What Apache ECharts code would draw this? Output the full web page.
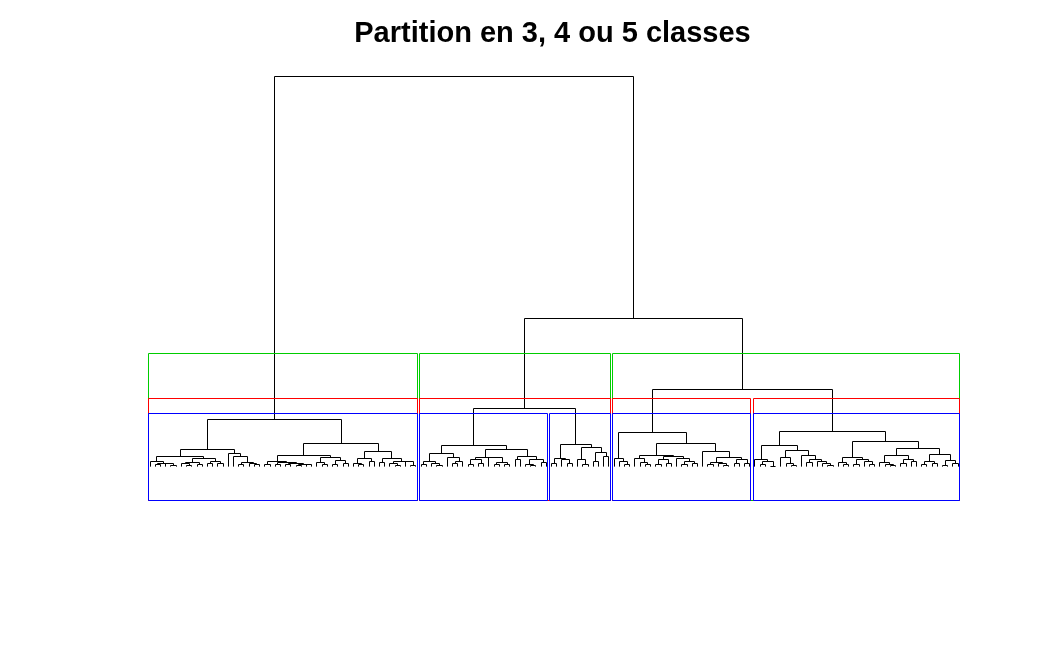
<!DOCTYPE html>
<html><head><meta charset="utf-8">
<script src="https://cdn.jsdelivr.net/npm/echarts@6/dist/echarts.min.js"></script>
<style>html,body{margin:0;padding:0;background:#fff}#c{width:1050px;height:648px}</style>
</head><body><div id="c"></div>
<script>
// ---- DATA ----
// Tree notation: a leaf is 0, a merge is [height, left, right]
const titleText = "Partition en 3, 4 ou 5 classes";
const cluster1 = [11.95,
  [4.45,
    [2.66,
      [1.38, 0, [0.9, [0.5, 0, 0], [0.7, 0, [0.4, 0, 0]]]],
      [2.15, [1.13, [0.8, 0, [0.4, 0, 0]], [0.5, 0, 0]], [1.38, [0.7, 0, 0], [0.9, 0, 0]]]],
    [3.43, 0, [2.66, 0, [1.13, [0.5, 0, 0], [0.9, 0, [0.56, 0, 0]]]]]],
  [6.0,
    [2.92,
      [1.38, [0.56, 0, 0], [1.0, [0.6, 0, 0], [0.85, [0.5, 0, 0], [0.65, [0.4, 0, 0], [0.5, 0, 0]]]]],
      [2.4, [1.13, 0, [0.5, 0, 0]], [1.5, [0.5, 0, 0], [0.8, 0, 0]]]],
    [4.0,
      [2.15, [0.9, 0, [0.5, 0, 0]], [1.2, 0, 0]],
      [2.0, [1.0, 0, 0], [1.4, [0.8, 0, [0.4, 0, 0]], [1.2, 0, [0.4, 0, 0]]]]]]];
const cluster2 = [5.48,
  [3.43,
    [1.38, [0.6, 0, 0], [0.7, 0, [0.4, 0, 0]]],
    [2.4, 0, [1.38, [0.8, 0, 0], 0]]],
  [4.45,
    [2.4,
      [1.7, [0.5, 0, 0], [0.8, 0, 0]],
      [2.35, 0, [1.13, [0.5, 0, 0], [0.6, 0, 0]]]],
    [2.66, [1.7, 0, 0], [1.7, [0.6, 0, [0.3, 0, 0]], [1.0, 0, 0]]]]];
const cluster3 = [5.73,
  [2.15, [0.8, 0, 0], [1.7, 0, [0.8, 0, 0]]],
  [4.97, [1.9, 0, [0.5, 0, 0]], [3.69, [1.38, 0, 0], [2.66, 0, 0]]]];
const cluster4 = [8.8,
  [2.15, 0, [1.38, 0, [0.5, 0, 0]]],
  [5.98,
    [2.92,
      [2.15, 0, [1.13, 0, [0.5, 0, 0]]],
      [2.6, [1.7, [0.6, 0, 0], [0.9, 0, 0]], [2.0, 0, [1.38, [0.6, 0, 0], [0.9, 0, 0]]]]],
    [3.94, 0,
      [2.4, [1.13, [0.5, 0, 0], [0.7, 0, [0.4, 0, 0]]], [1.9, [0.7, 0, 0], [0.9, 0, 0]]]]]];
const cluster5 = [9.06,
  [5.48,
    [1.9, 0, [1.38, [0.5, 0, 0], [0.15, 0, 0]]],
    [4.2,
      [2.4, 0, [0.85, 0, [0.3, 0, 0]]],
      [2.92, 0, [1.9, [1.13, 0, 0], [1.38, 0, [0.8, 0, [0.4, 0, 0]]]]]]],
  [6.5,
    [2.4, [1.13, 0, [0.5, 0, 0]], [1.9, [0.6, 0, 0], [1.38, 0, [0.6, 0, 0]]]],
    [4.7,
      [2.92, [1.13, 0, [0.5, 0, [0.3, 0, 0]]], [1.9, [0.7, 0, 0], [1.2, 0, 0]]],
      [3.17, [1.38, [0.5, 0, 0], [0.8, 0, 0]], [1.64, [0.4, 0, 0], [0.9, 0, 0]]]]]];
const upperHeights = [100, 38.0, 15.0, 19.8]; // root, right branch, clusters 2+3, clusters 4+5
const classCounts = [3, 4, 5];
const rectColors = ['#00CD00', '#FF0000', '#0000FF'];
const yBottom = -8.8;

// ---- BUILD ----
const tree = [upperHeights[0], cluster1,
  [upperHeights[1], [upperHeights[2], cluster2, cluster3], [upperHeights[3], cluster4, cluster5]]];

let leafCounter = 0;
const segs = [];
const mergeHeights = [];
function layout(node) {
  if (node === 0) { leafCounter++; return { x: leafCounter, h: 0 }; }
  const L = layout(node[1]), R = layout(node[2]);
  segs.push([L.x, R.x, node[0], L.h, R.h]);
  mergeHeights.push(node[0]);
  return { x: (L.x + R.x) / 2, h: node[0] };
}
layout(tree);
const N = leafCounter;
const sortedH = mergeHeights.slice().sort((a, b) => b - a);

function countLeaves(node) { return node === 0 ? 1 : countLeaves(node[1]) + countLeaves(node[2]); }
function ranges(node, cut, start, out) {
  const c = countLeaves(node);
  if (node === 0 || node[0] <= cut) { out.push([start, start + c - 1]); return c; }
  const a = ranges(node[1], cut, start, out);
  ranges(node[2], cut, start + a, out);
  return c;
}

const rectData = [];
classCounts.forEach((k, i) => {
  const cut = (sortedH[k - 2] + sortedH[k - 1]) / 2;
  const out = [];
  ranges(tree, cut, 1, out);
  out.forEach(r => rectData.push([r[0] - 1 + 0.66, r[1] + 0.33, cut, i]));
});

const snap = v => Math.floor(v) + 0.5;
const chart = echarts.init(document.getElementById('c'), null, { renderer: 'canvas' });
const ext = 0.04 * (N - 1);
chart.setOption({
  animation: false,
  backgroundColor: '#ffffff',
  grid: { left: 117.8, right: 59.5, top: 76, bottom: 147 },
  xAxis: { type: 'value', min: 1 - ext, max: N + ext, show: false },
  yAxis: { type: 'value', min: yBottom, max: upperHeights[0], show: false },
  series: [
    {
      type: 'custom', coordinateSystem: 'cartesian2d', data: segs, encode: { x: [0, 1], y: [2, 3, 4] }, silent: true,
      renderItem: function (params, api) {
        const p1 = api.coord([api.value(0), api.value(3)]);
        const p2 = api.coord([api.value(0), api.value(2)]);
        const p3 = api.coord([api.value(1), api.value(2)]);
        const p4 = api.coord([api.value(1), api.value(4)]);
        return {
          type: 'polyline',
          shape: { points: [[snap(p1[0]), p1[1]], [snap(p2[0]), snap(p2[1])], [snap(p3[0]), snap(p3[1])], [snap(p4[0]), p4[1]]] },
          style: { stroke: '#000', lineWidth: 1, fill: null }
        };
      }
    }
  ]
});

// rectangles of the 3-, 4- and 5-class partitions, placed through the chart's own scales
const gfx = [{
  type: 'text', x: 552.5, y: 34, z: 10,
  style: { text: titleText, font: 'bold 29px "Liberation Sans", Arial, sans-serif', fill: '#000', align: 'center', verticalAlign: 'middle' }
}];
rectData.forEach(r => {
  const a = chart.convertToPixel({ gridIndex: 0 }, [r[0], r[2]]);
  const b = chart.convertToPixel({ gridIndex: 0 }, [r[1], yBottom]);
  const x0 = snap(a[0]), y0 = snap(a[1]), x1 = Math.round(b[0]) - 0.5, y1 = snap(b[1]) - 1;
  gfx.push({
    type: 'polygon', z: 5, silent: true,
    shape: { points: [[x0, y0], [x1, y0], [x1, y1], [x0, y1]] },
    style: { stroke: rectColors[r[3]], lineWidth: 1, fill: null }
  });
});
chart.setOption({ graphic: gfx });
</script></body></html>
